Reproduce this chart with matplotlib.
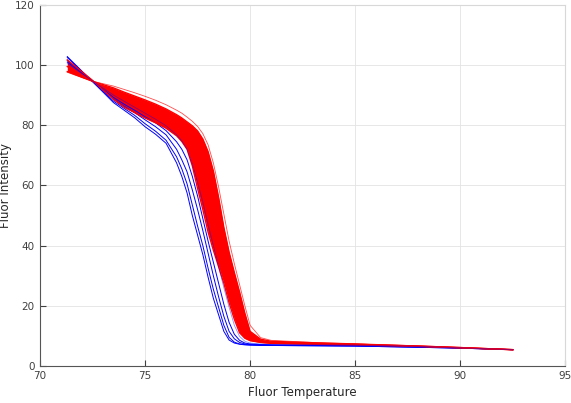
import numpy as np
import matplotlib.pyplot as plt

# temperaturas comuns a todas as curvas
temps = [71.3, 72.5, 73.5, 74.0, 74.5, 75.0, 75.5, 76.0, 76.5, 76.75, 77.0, 77.25, 77.5,
         77.75, 78.0, 78.25, 78.5, 78.75, 79.0, 79.25, 79.5, 79.75, 80.0, 80.5, 81.0,
         83.0, 85.0, 88.0, 90.0, 92.5]

# curvas vermelhas (curva externa, borda superior, meio e borda inferior da faixa)
red_outer = [97.6, 94.6, 93.0, 91.9, 90.8, 89.6, 88.3, 86.8, 85.0, 84.0, 82.7, 81.3, 79.6,
             77.2, 73.5, 67.5, 59.5, 50.5, 41.5, 34.0, 27.0, 20.0, 13.5, 9.4, 8.5,
             7.8, 7.3, 6.6, 6.1, 5.4]
red_hi = [97.8, 94.6, 92.4, 91.0, 89.7, 88.4, 87.0, 85.4, 83.5, 82.4, 81.1, 79.8, 78.1,
          75.4, 71.2, 64.8, 56.0, 46.0, 37.8, 31.0, 24.5, 17.5, 11.5, 8.9, 8.2,
          7.7, 7.3, 6.6, 6.1, 5.4]
red_mid = [99.5, 94.7, 90.5, 88.6, 86.9, 85.2, 83.6, 81.9, 79.8, 78.5, 76.7, 74.0, 70.0,
           64.5, 58.0, 51.5, 45.0, 38.0, 31.0, 24.0, 17.5, 12.5, 9.8, 8.3, 7.9,
           7.5, 7.2, 6.6, 6.1, 5.4]
red_lo = [101.7, 94.9, 88.6, 86.0, 84.2, 82.4, 80.8, 79.0, 76.5, 74.6, 72.0, 66.5, 59.0,
          52.0, 44.5, 38.5, 33.0, 27.5, 21.0, 15.5, 11.0, 9.2, 8.4, 7.8, 7.5,
          7.2, 7.0, 6.5, 6.0, 5.4]

# curvas azuis
blue_curves = [
    [102.8, 94.5, 87.5, 85.0, 82.5, 79.5, 77.0, 74.0, 67.5, 63.0, 57.5, 50.0, 43.5,
     37.0, 29.5, 22.5, 17.0, 11.5, 8.6, 7.6, 7.2, 7.0, 6.9, 6.8, 6.8,
     6.7, 6.6, 6.2, 5.9, 5.4],
    [102.5, 94.5, 88.0, 85.6, 83.3, 80.5, 78.0, 75.0, 69.5, 65.5, 60.5, 53.5, 46.5,
     40.0, 32.5, 25.5, 19.5, 13.5, 9.5, 7.9, 7.3, 7.1, 7.0, 6.9, 6.8,
     6.7, 6.6, 6.2, 5.9, 5.4],
    [101.5, 94.7, 88.6, 86.3, 84.2, 81.8, 79.5, 76.8, 72.0, 68.5, 64.5, 58.5, 52.0,
     45.0, 37.5, 30.0, 23.0, 16.5, 11.5, 9.0, 7.8, 7.3, 7.1, 7.0, 6.9,
     6.8, 6.7, 6.3, 6.0, 5.4],
    [101.0, 94.7, 89.2, 87.0, 85.0, 82.8, 80.8, 78.2, 74.5, 72.0, 68.5, 63.0, 56.5,
     49.0, 41.5, 34.5, 27.5, 20.5, 14.5, 10.5, 8.5, 7.6, 7.3, 7.1, 7.0,
     6.9, 6.8, 6.4, 6.0, 5.4],
]
blue_inside = [100.5, 94.7, 90.0, 88.0, 86.0, 84.0, 82.0, 79.8, 76.8, 74.8, 72.0, 67.0, 61.0,
               54.5, 47.0, 40.0, 33.0, 26.0, 19.5, 13.5, 9.8, 8.2, 7.6, 7.3, 7.1,
               7.0, 6.9, 6.5, 6.0, 5.4]

fig = plt.figure(figsize=(5.71, 4.03), dpi=100)
ax = fig.add_axes([0.070, 0.092, 0.920, 0.896])

for yb in blue_curves:
    ax.plot(temps, yb, color='blue', lw=0.7)

ax.fill_between(temps, red_lo, red_hi, color='red', lw=0)
for yr in [red_lo, red_mid, red_hi]:
    ax.plot(temps, yr, color='red', lw=1.0)
ax.plot(temps, red_outer, color='red', lw=0.6, alpha=0.7)

ax.plot(temps, blue_inside, color='blue', lw=0.6, alpha=0.45)

ax.set_xlim(70, 95)
ax.set_ylim(0, 120)
ax.set_xticks(np.arange(70, 96, 5))
ax.set_yticks(np.arange(0, 121, 20))
ax.grid(True, color='#e3e3e3', lw=0.6)
ax.set_axisbelow(True)
ax.tick_params(direction='in', length=4, width=0.8, colors='#404040', labelsize=7.5, pad=4)
for s in ['left', 'bottom']:
    ax.spines[s].set_color('#555555')
for s in ['top', 'right']:
    ax.spines[s].set_color('#d8d8d8')
ax.set_xlabel('Fluor Temperature', fontsize=8.5, color='#262626', labelpad=3)
ax.set_ylabel('Fluor Intensity', fontsize=8.5, color='#262626', labelpad=2)

fig.savefig('out.png', dpi=100)
